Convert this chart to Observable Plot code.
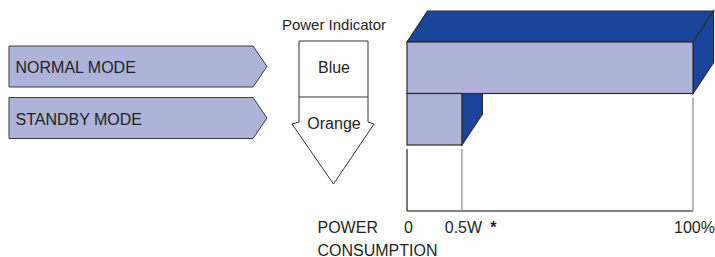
<!DOCTYPE html>
<html><head><meta charset="utf-8">
<script src="https://cdn.jsdelivr.net/npm/d3@7"></script>
<script src="https://cdn.jsdelivr.net/npm/@observablehq/plot@0.6"></script>
<style>
html,body{margin:0;padding:0;background:#fff;}
#chart svg{display:block;}
</style></head><body><div id="chart"></div>
<script>
// ---- data ----
const modes = ["NORMAL MODE", "STANDBY MODE"];
const indicatorColors = ["Blue", "Orange"];
const consumption = [100, 19.2];          // position on the power axis (standby drawn at the 0.5W tick)
const tickValues = [0, 19.2, 100];
const tickLabels = ["0", "0.5W", "100%"];
const axisTitle = ["POWER", "CONSUMPTION"];
const indicatorTitle = "Power Indicator";
const footnoteMark = "*";

// ---- style ----
const LIGHT = "#adb3d9", DARK = "#19469b", EDGE = "#2b2b2b", INK = "#231f20";
const FONT = "'Liberation Sans', Arial, Helvetica, sans-serif";
const DX = 20.5, DY = -31;

const bars = modes.map((m, i) => ({mode: m, value: consumption[i]}));

function poly(g, pts, fill, stroke, sw) {
  g.append("path")
    .attr("d", "M" + pts.map(p => p.join(",")).join("L") + "Z")
    .attr("fill", fill).attr("stroke", stroke).attr("stroke-width", sw)
    .attr("stroke-linejoin", "miter");
}
function bw(y) { return typeof y.bandwidth === "function" ? y.bandwidth() : (y(modes[1]) - y(modes[0])); }

// 3D depth faces of the bars
const depthFaces = (index, {x, y}) => {
  const g = d3.create("svg:g");
  const b = bw(y);
  for (const d of bars.slice().reverse()) {
    const x0 = x(0), x1 = x(d.value), y0 = y(d.mode), y1 = y0 + b;
    poly(g, [[x0, y0], [x0 + DX, y0 + DY], [x1 + DX, y0 + DY], [x1, y0]], DARK, EDGE, 1.2);
    poly(g, [[x1, y0], [x1 + DX, y0 + DY], [x1 + DX, y1 + DY], [x1, y1]], DARK, EDGE, 1.2);
  }
  return g.node();
};

// axis lines
const axisLines = (index, {x, y}) => {
  const g = d3.create("svg:g");
  const b = bw(y);
  const base = y(modes[1]) + b + 66;
  g.append("line").attr("x1", x(0)).attr("x2", x(100)).attr("y1", base).attr("y2", base)
    .attr("stroke", "#5a5a5a").attr("stroke-width", 1.3);
  tickValues.forEach((v, i) => {
    let bottom = 0;
    bars.forEach(d => { if (v <= d.value) bottom = Math.max(bottom, y(d.mode) + b); });
    g.append("line").attr("x1", x(v)).attr("x2", x(v)).attr("y1", bottom + 4).attr("y2", base)
      .attr("stroke", i === 0 ? "#333" : "#8f8f8f").attr("stroke-width", 1.3);
  });
  return g.node();
};

// mode arrows on the left
const modeArrows = (index, {y}) => {
  const g = d3.create("svg:g");
  const b = bw(y);
  modes.forEach(m => {
    const t = y(m) + 4, btm = y(m) + b - 6.5, mid = (t + btm) / 2;
    poly(g, [[9, t], [253, t], [267, mid], [253, btm], [9, btm]], LIGHT, "#3a3a3a", 1);
  });
  return g.node();
};

// power indicator box + arrow
const indicatorShape = (index, {y}) => {
  const g = d3.create("svg:g");
  const cx = 333.5, L = 299, R = 368;
  const top = y(modes[0]) - 1, split = y(modes[1]) + 3.5, shoulder = split + 27, tip = shoulder + 60;
  poly(g, [[L, top], [R, top], [R, shoulder - 2], [R + 6, shoulder], [cx, tip], [L - 7, shoulder], [L, shoulder - 2]], "white", "#333", 1);
  g.append("line").attr("x1", L).attr("x2", R).attr("y1", split).attr("y2", split)
    .attr("stroke", "#333").attr("stroke-width", 1);
  return g.node();
};

const txt = {fill: INK, fontSize: 16, fontFamily: FONT};

const chart = Plot.plot({
  width: 715,
  height: 257,
  marginTop: 0, marginRight: 0, marginBottom: 0, marginLeft: 0,
  x: {domain: [0, 100], range: [407, 693], axis: null},
  y: {type: "band", domain: modes, range: [42, 145], padding: 0, round: false, axis: null},
  style: {fontFamily: FONT, background: "white"},
  marks: [
    modeArrows,
    indicatorShape,
    depthFaces,
    Plot.barX(bars, {x1: 0, x2: "value", y: "mode", fill: LIGHT, stroke: EDGE, strokeWidth: 1.2}),
    axisLines,
    Plot.text(modes, {y: d => d, text: d => d, frameAnchor: "left", dx: 15, textAnchor: "start", ...txt}),
    Plot.text([indicatorColors[0]], {y: () => modes[0], text: d => d, frameAnchor: "left", dx: 333.5, textAnchor: "middle", ...txt}),
    Plot.text([indicatorColors[1]], {y: () => modes[1], text: d => d, frameAnchor: "left", dx: 333.5, dy: 4, textAnchor: "middle", ...txt}),
    Plot.text([indicatorTitle], {text: d => d, frameAnchor: "top-left", dx: 333.5, dy: 29, lineAnchor: "bottom", textAnchor: "middle", ...txt, fontSize: 15}),
    Plot.text(tickValues, {x: d => d, text: (d, i) => tickLabels[i], frameAnchor: "bottom", lineAnchor: "bottom", dy: -25, dx: 1, textAnchor: "middle", ...txt}),
    Plot.text([tickValues[1]], {x: d => d, text: () => footnoteMark, frameAnchor: "bottom", lineAnchor: "bottom", dy: -25, dx: 31, textAnchor: "middle", ...txt, fontWeight: "bold"}),
    Plot.text([axisTitle[0]], {text: d => d, frameAnchor: "bottom-left", dx: 317, dy: -25, lineAnchor: "bottom", textAnchor: "start", ...txt}),
    Plot.text([axisTitle[1]], {text: d => d, frameAnchor: "bottom-left", dx: 317, dy: -2, lineAnchor: "bottom", textAnchor: "start", ...txt})
  ]
});
document.getElementById("chart").appendChild(chart);
</script></body></html>
